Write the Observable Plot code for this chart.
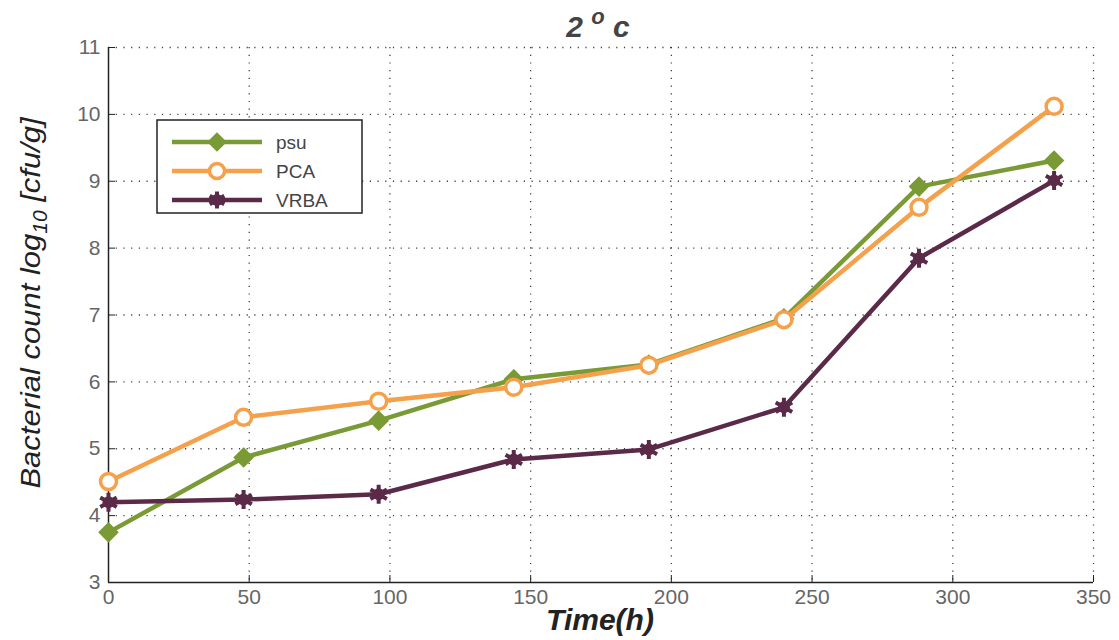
<!DOCTYPE html>
<html><head><meta charset="utf-8">
<script src="https://cdn.jsdelivr.net/npm/d3@7"></script>
<script src="https://cdn.jsdelivr.net/npm/@observablehq/plot@0.6"></script>
<style>body{margin:0;background:#fff}#chart svg{display:block}</style>
</head><body><div id="chart"></div>
<script>
const hours = [0, 48, 96, 144, 192, 240, 288, 336];
const psu  = [3.75, 4.87, 5.42, 6.04, 6.26, 6.95, 8.92, 9.31];
const pca  = [4.51, 5.47, 5.71, 5.92, 6.25, 6.93, 8.61, 10.12];
const vrba = [4.20, 4.24, 4.32, 4.84, 4.99, 5.62, 7.85, 9.01];
const seriesNames = ["psu", "PCA", "VRBA"];
const xTicks = [0, 50, 100, 150, 200, 250, 300, 350];
const yTicks = [3, 4, 5, 6, 7, 8, 9, 10, 11];

const colors = {psu: "#7a9a36", PCA: "#f5a14c", VRBA: "#5a2a48"};
const rows = [];
[psu, pca, vrba].forEach((arr, k) => arr.forEach((v, i) => rows.push({series: seriesNames[k], t: hours[i], v})));
const sub = s => rows.filter(d => d.series === s);

const plot = Plot.plot({
  width: 1119, height: 640,
  marginLeft: 108, marginRight: 26, marginTop: 47, marginBottom: 58,
  style: {fontFamily: "Liberation Sans, Arial, sans-serif", background: "#fff"},
  x: {domain: [0, 350], ticks: xTicks},
  y: {domain: [3, 11], ticks: yTicks},
  marks: [
    Plot.gridX(xTicks.filter(d => d > 0), {stroke: "#000", strokeOpacity: 0.75, strokeDasharray: "1.2,6.5", strokeWidth: 1.3}),
    Plot.gridY(yTicks.filter(d => d > 3), {stroke: "#000", strokeOpacity: 0.75, strokeDasharray: "1.2,6.5", strokeWidth: 1.3}),
    Plot.axisX({ticks: xTicks, tickSize: -7, tickPadding: 14, fontSize: 21, fill: "#666", label: null, stroke: "#222"}),
    Plot.axisY({ticks: yTicks, tickSize: -7, tickPadding: 15, fontSize: 21, fill: "#666", label: null, stroke: "#222"}),
    Plot.ruleX([0], {stroke: "#222", strokeWidth: 1.5}),
    Plot.ruleY([3], {stroke: "#222", strokeWidth: 1.5}),
    Plot.line(sub("psu"), {x: "t", y: "v", stroke: colors.psu, strokeWidth: 4.5}),
    Plot.line(sub("PCA"), {x: "t", y: "v", stroke: colors.PCA, strokeWidth: 4.5}),
    Plot.line(sub("VRBA"), {x: "t", y: "v", stroke: colors.VRBA, strokeWidth: 4.5}),
    Plot.dot(sub("psu"), {x: "t", y: "v", symbol: "diamond2", r: 8, fill: colors.psu, stroke: colors.psu, strokeWidth: 2}),
    Plot.dot(sub("PCA"), {x: "t", y: "v", symbol: "circle", r: 8, fill: "#fff", stroke: colors.PCA, strokeWidth: 3.5}),
    Plot.dot(sub("VRBA"), {x: "t", y: "v", symbol: "asterisk", r: 9, stroke: colors.VRBA, strokeWidth: 4}),
    Plot.dot(sub("VRBA"), {x: "t", y: "v", symbol: "circle", r: 6, fill: colors.VRBA})
  ]
});
document.getElementById("chart").appendChild(plot);

const svg = d3.select(plot);
// title
const title = svg.append("text").attr("x", 598).attr("y", 37).attr("text-anchor", "middle")
  .attr("font-family", "Liberation Sans, Arial, sans-serif").attr("font-weight", "bold").attr("font-style", "italic")
  .attr("font-size", 30).attr("fill", "#444");
title.append("tspan").text("2 ");
title.append("tspan").attr("dy", -13).attr("font-size", 22).text("o");
title.append("tspan").attr("dy", 13).text(" c");

// x label
svg.append("text").attr("x", 600).attr("y", 630).attr("text-anchor", "middle")
  .attr("font-family", "Liberation Sans, Arial, sans-serif").attr("font-weight", "bold").attr("font-style", "italic")
  .attr("font-size", 30).attr("fill", "#222").text("Time(h)");

// y label
const yl = svg.append("text").attr("transform", "translate(40,303) rotate(-90) scale(1,0.92)").attr("text-anchor", "middle")
  .attr("font-family", "Liberation Sans Narrow, Arial Narrow, Liberation Sans, sans-serif").attr("font-style", "italic")
  .attr("font-size", 31).attr("fill", "#222");
yl.append("tspan").text("Bacterial count log");
yl.append("tspan").attr("dy", 8).attr("font-size", 21).text("10");
yl.append("tspan").attr("dy", -8).text(" [cfu/g]");

// legend
const lg = svg.append("g");
lg.append("rect").attr("x", 157).attr("y", 120).attr("width", 205).attr("height", 93)
  .attr("fill", "#fff").attr("stroke", "#222").attr("stroke-width", 1.5);
seriesNames.forEach((s, i) => {
  const y = 142 + i * 29;
  lg.append("line").attr("x1", 172).attr("x2", 262).attr("y1", y).attr("y2", y).attr("stroke", colors[s]).attr("stroke-width", 4.5);
  const sym = s === "psu" ? d3.symbolDiamond2 : s === "PCA" ? d3.symbolCircle : d3.symbolAsterisk;
  const p = d3.symbol(sym, s === "VRBA" ? 200 : 180)();
  if (s === "psu") lg.append("path").attr("d", p).attr("transform", `translate(217,${y})`).attr("fill", colors[s]).attr("stroke", colors[s]).attr("stroke-width", 2);
  if (s === "PCA") lg.append("path").attr("d", p).attr("transform", `translate(217,${y})`).attr("fill", "#fff").attr("stroke", colors[s]).attr("stroke-width", 3.5);
  if (s === "VRBA") {
    lg.append("path").attr("d", p).attr("transform", `translate(217,${y})`).attr("fill", "none").attr("stroke", colors[s]).attr("stroke-width", 4);
    lg.append("circle").attr("cx", 217).attr("cy", y).attr("r", 6).attr("fill", colors[s]);
  }
  lg.append("text").attr("x", 276).attr("y", y + 7).attr("text-anchor", "start").attr("font-family", "Liberation Sans, Arial, sans-serif")
    .attr("font-size", 19).attr("fill", "#444").text(s);
});
</script></body></html>
